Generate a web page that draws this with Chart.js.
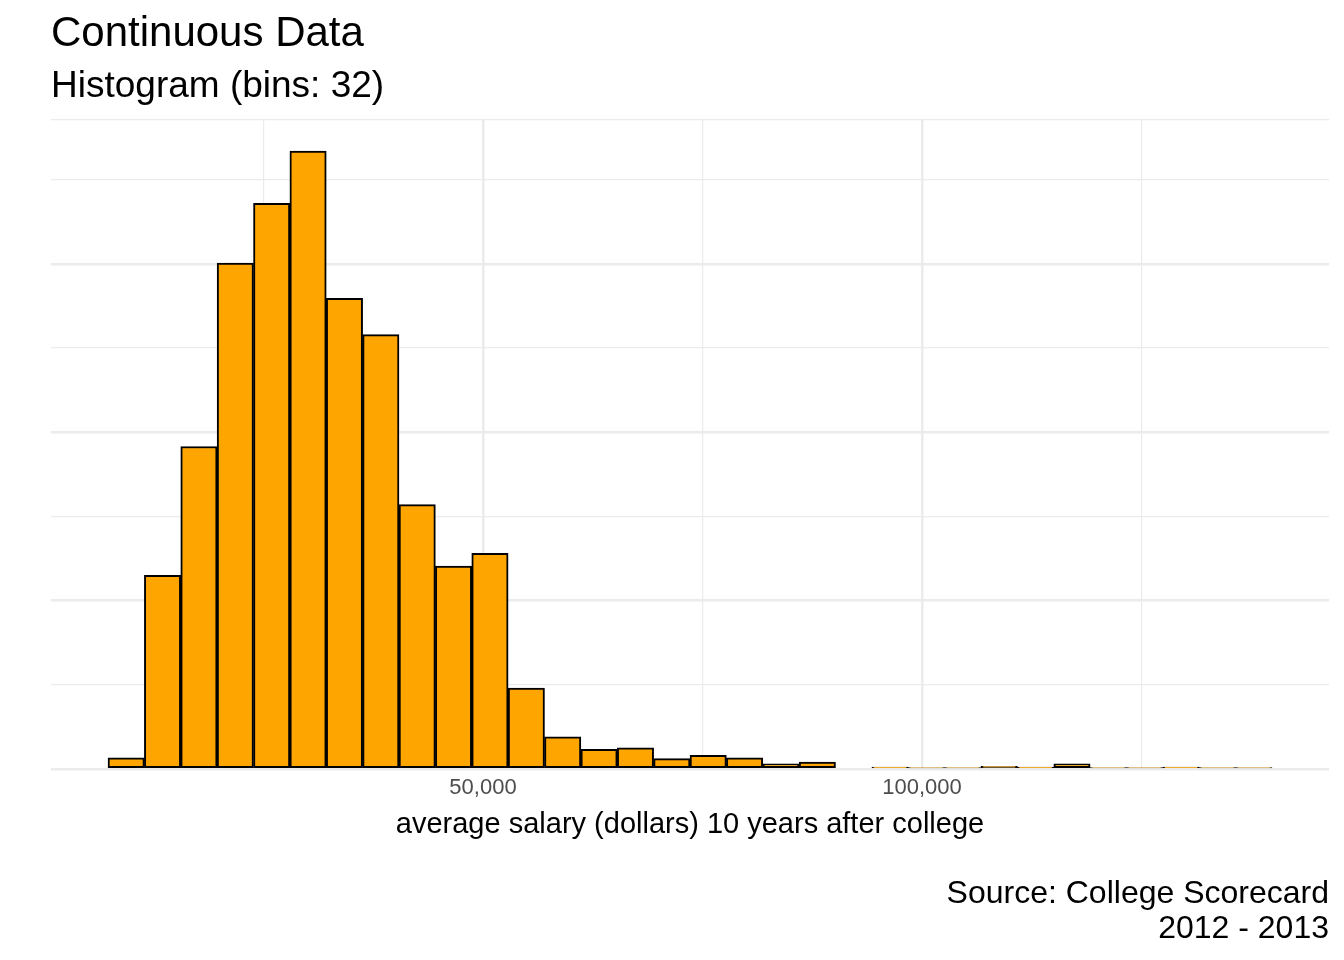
<!DOCTYPE html>
<html><head><meta charset="utf-8">
<script src="https://cdn.jsdelivr.net/npm/chart.js@4"></script>
<style>body{margin:0;background:#fff}#wrap{width:1344px;height:960px}</style>
</head><body><div id="wrap"><canvas id="c"></canvas></div>
<script>
const binStart = 7289;
const binWidth = 4143;
const counts = [13,230,383,601,672,734,559,516,314,241,256,96,38,23,25,12,16,13,6,8,0,2,1,1,3,2,6,1,1,2,1,1];
const xTicks = [25000,50000,75000,100000,125000];
const xLabels = [50000,100000];

const points = counts.map((c, i) => ({x: binStart + binWidth * (i + 0.5), y: c}));

const textPlugin = {
  id: 'texts',
  afterDraw(chart) {
    const ctx = chart.ctx;
    ctx.save();
    ctx.fillStyle = '#000';
    ctx.textBaseline = 'alphabetic';
    ctx.textAlign = 'left';
    ctx.font = '42px "Liberation Sans", Arial, sans-serif';
    ctx.fillText('Continuous Data', 51, 46);
    ctx.font = '37px "Liberation Sans", Arial, sans-serif';
    ctx.fillText('Histogram (bins: 32)', 51, 97);
    ctx.textAlign = 'right';
    ctx.font = '32px "Liberation Sans", Arial, sans-serif';
    ctx.fillText('Source: College Scorecard', 1329, 903);
    ctx.fillText('2012 - 2013', 1329, 938);
    ctx.restore();
  }
};

new Chart(document.getElementById('c'), {
  type: 'bar',
  data: {
    datasets: [{
      data: points,
      backgroundColor: '#FFA500',
      borderColor: '#000',
      borderWidth: 2,
      barPercentage: 1,
      categoryPercentage: 1,
      borderSkipped: false
    }]
  },
  options: {
    responsive: true,
    maintainAspectRatio: false,
    animation: false,
    layout: {padding: {top: 120, left: 51, right: 15, bottom: 114}},
    plugins: {legend: {display: false}, tooltip: {enabled: false}},
    scales: {
      x: {
        type: 'linear',
        offset: false,
        min: 797,
        max: 146355,
        afterBuildTicks: (s) => { s.ticks = xTicks.map(v => ({value: v})); },
        ticks: {
          color: '#4d4d4d',
          font: {size: 22, family: '"Liberation Sans", Arial, sans-serif'},
          padding: 6,
          maxRotation: 0,
          callback: (v) => xLabels.includes(v) ? v.toLocaleString('en-US') : ''
        },
        grid: {
          offset: false,
          color: '#ebebeb',
          lineWidth: (c) => c.tick && xLabels.includes(c.tick.value) ? 2.5 : 1.2,
          drawTicks: false
        },
        border: {display: false},
        title: {
          display: true,
          text: 'average salary (dollars) 10 years after college',
          color: '#000',
          font: {size: 29, family: '"Liberation Sans", Arial, sans-serif'},
          padding: {top: 0}
        }
      },
      y: {
        min: 0,
        max: 771,
        afterFit: (s) => { s.width = 0; },
        ticks: {display: false, stepSize: 100},
        grid: {
          color: '#ebebeb',
          lineWidth: (c) => c.tick && c.tick.value % 200 === 0 ? 2.5 : 1.2,
          drawTicks: false
        },
        border: {display: false}
      }
    }
  },
  plugins: [textPlugin]
});
</script></body></html>
